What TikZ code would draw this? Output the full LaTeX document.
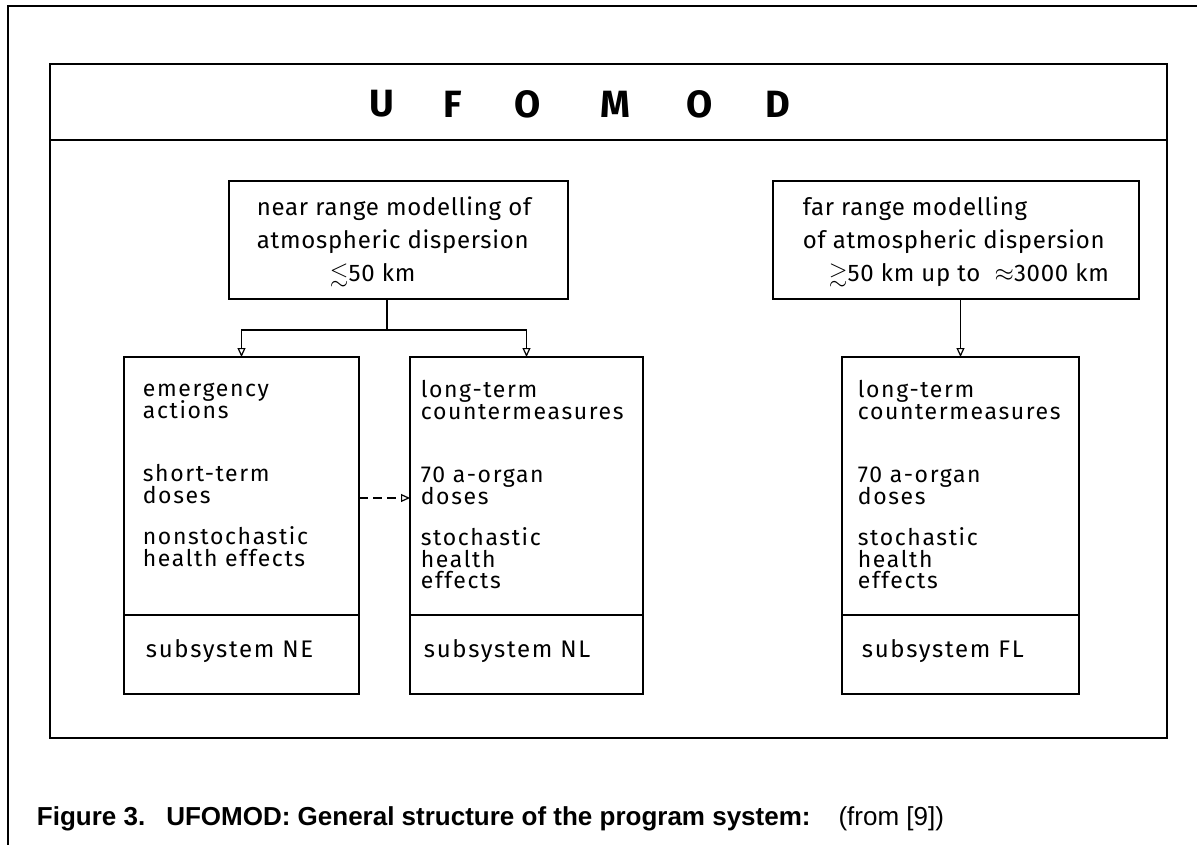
\documentclass[tikz,border=0pt]{standalone}
\usepackage{amssymb}
\usepackage{fontspec}
\setmainfont{Fira Sans}
\newfontfamily\boxfont[LetterSpace=3]{Fira Sans}
\newfontfamily\lowfont[LetterSpace=7]{Fira Sans}
\newfontfamily\capfont{Liberation Sans}
\usetikzlibrary{arrows.meta,positioning}

\tikzset{
  box/.style={draw, inner sep=0pt, outer sep=0pt},
  titlechar/.style={inner sep=0pt, font=\bfseries\fontsize{38}{40}\selectfont},
  toptext/.style={anchor=north west, align=left, inner sep=0pt, font={\boxfont\fontsize{24}{33}\selectfont\lineskiplimit=-40pt}},
  lowtext/.style={anchor=north west, align=left, inner sep=0pt, font={\lowfont\fontsize{23}{21.5}\selectfont\lineskiplimit=-40pt}},
  subtext/.style={anchor=base west, inner sep=0pt, font=\lowfont\fontsize{24}{26}\selectfont},
  arr/.style={-{Triangle[open, length=9pt, width=8pt, line width=1.2pt]}}
}
\newcommand{\topstrut}{\rule{0pt}{20pt}}

\begin{document}
\begin{tikzpicture}[x=1pt, y=-1pt, line width=1.8pt]
\useasboundingbox (0,0) rectangle (1197,845);
% page frame and main frame
\draw (8,845) -- (8,6) -- (1197,6);
\draw (50,64) rectangle (1167,738);
\draw (50,140) -- (1167,140);
\foreach \ch/\x in {U/382,F/453,O/528,M/615,O/700,D/778}
  \node[titlechar] (t\x) at (\x,104) {\ch};

% modelling boxes
\node[box, minimum width=339pt, minimum height=118pt] (near) at (398.5,240) {};
\node[toptext] (nearTxt) at (256,195) {\topstrut near range modelling of\\atmospheric dispersion\\\hspace{73pt}$\lesssim$50 km};
\node[box, minimum width=366pt, minimum height=118pt] (far) at (956,240) {};
\node[toptext] (farTxt) at (802,195) {\topstrut far range modelling\\of atmospheric dispersion\\\hspace{26pt}$\gtrsim$50 km up to \ $\approx$3000 km};

% subsystem boxes
\node[box, minimum width=235pt, minimum height=337pt] (ne) at (241.5,525.5) {};
\node[box, minimum width=233pt, minimum height=337pt] (nl) at (526.5,525.5) {};
\node[box, minimum width=237pt, minimum height=337pt] (fl) at (960.5,525.5) {};
\coordinate (sep) at (0,615);
\draw (ne.west |- sep) -- (ne.east |- sep);
\draw (nl.west |- sep) -- (nl.east |- sep);
\draw (fl.west |- sep) -- (fl.east |- sep);

\node[lowtext] (neTxt) at ([xshift=18pt, yshift=-19pt]ne.north west) {\topstrut emergency\\actions\\[42pt]short-term\\doses\\[20pt]nonstochastic\\health effects};
\node[lowtext] (nlTxt) at ([xshift=10pt, yshift=-20pt]nl.north west) {\topstrut long-term\\countermeasures\\[42pt]70 a-organ\\doses\\[20pt]stochastic\\health\\effects};
\node[lowtext] (flTxt) at ([xshift=15pt, yshift=-20pt]fl.north west) {\topstrut long-term\\countermeasures\\[42pt]70 a-organ\\doses\\[20pt]stochastic\\health\\effects};

\coordinate (subBase) at (0,657);
\node[subtext] (neSub) at ([xshift=21pt]ne.west |- subBase) {subsystem NE};
\node[subtext] (nlSub) at ([xshift=13pt]nl.west |- subBase) {subsystem NL};
\node[subtext] (flSub) at ([xshift=19pt]fl.west |- subBase) {subsystem FL};

% connectors
\coordinate (fork) at (387,330);
\draw (near.south -| fork) -- (fork);
\draw[arr] (fork) -| (ne.north);
\draw[arr] (fork) -| (nl.north);
\draw[arr] (far.south -| fl.north) -- (fl.north);
\coordinate (dsh) at (0,498);
\draw[arr, dash pattern=on 9pt off 5pt] (ne.east |- dsh) -- (nl.west |- dsh);

% caption
\node[anchor=base west, inner sep=0pt, font=\capfont\fontsize{26}{30}\selectfont] (caption) at (36,825)
  {\bfseries Figure 3.\hspace{21pt}UFOMOD: General structure of the program system:\hspace{28pt}\mdseries (from [9])};
\end{tikzpicture}
\end{document}
